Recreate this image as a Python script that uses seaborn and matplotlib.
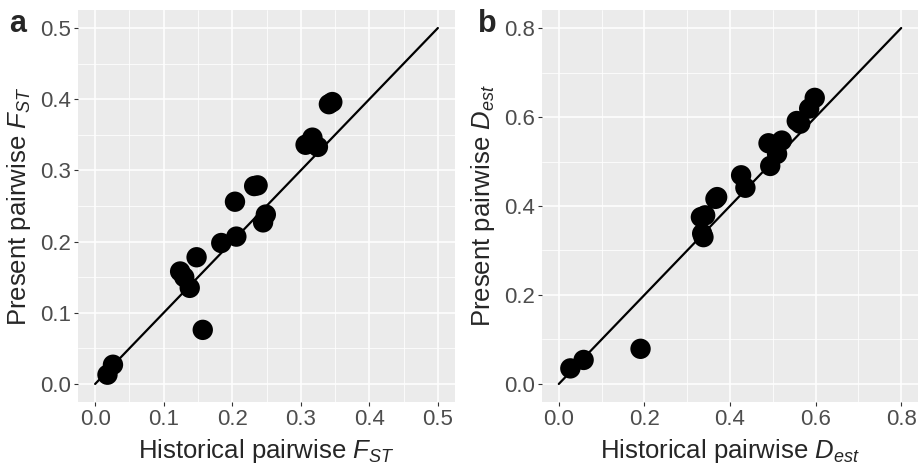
import numpy as np
import pandas as pd
import matplotlib
matplotlib.use("Agg")
import matplotlib.pyplot as plt
import seaborn as sns
from matplotlib.ticker import MultipleLocator

# values
hist_fst = [0.018, 0.026, 0.124, 0.130, 0.138, 0.148, 0.157, 0.184, 0.204, 0.206,
            0.232, 0.237, 0.249, 0.245, 0.307, 0.317, 0.325, 0.312, 0.341, 0.346]
pres_fst = [0.013, 0.027, 0.158, 0.150, 0.135, 0.178, 0.076, 0.198, 0.256, 0.207,
            0.278, 0.279, 0.238, 0.227, 0.336, 0.346, 0.333, 0.338, 0.393, 0.396]

hist_dest = [0.027, 0.058, 0.191, 0.332, 0.342, 0.338, 0.335, 0.370, 0.366, 0.426,
             0.436, 0.494, 0.490, 0.521, 0.510, 0.507, 0.556, 0.564, 0.585, 0.598]
pres_dest = [0.035, 0.054, 0.079, 0.375, 0.379, 0.330, 0.338, 0.420, 0.416, 0.469,
             0.441, 0.490, 0.541, 0.547, 0.517, 0.532, 0.591, 0.585, 0.619, 0.643]

sns.set_theme(style="darkgrid", rc={
    "axes.facecolor": "#EBEBEB",
    "grid.color": "white",
    "axes.edgecolor": "none",
})
plt.rcParams["font.family"] = ["Liberation Sans", "DejaVu Sans"]
plt.rcParams["mathtext.fontset"] = "custom"
plt.rcParams["mathtext.rm"] = "Liberation Sans"
plt.rcParams["mathtext.it"] = "Liberation Sans:italic"

fig = plt.figure(figsize=(9.22, 4.65), dpi=100)
ax1 = fig.add_axes([0.0846, 0.136, 0.4089, 0.842])
ax2 = fig.add_axes([0.5875, 0.136, 0.4085, 0.842])

df1 = pd.DataFrame({"x": hist_fst, "y": pres_fst})
df2 = pd.DataFrame({"x": hist_dest, "y": pres_dest})

panels = [
    (ax1, df1, 0.5, 0.1, r"Historical pairwise $F_{ST}$", r"Present pairwise $F_{ST}$"),
    (ax2, df2, 0.8, 0.2, r"Historical pairwise $D_{est}$", r"Present pairwise $D_{est}$"),
]

for ax, df, top, step, xl, yl in panels:
    ax.plot([0, top], [0, top], color="black", lw=1.6, zorder=2)
    sns.scatterplot(data=df, x="x", y="y", ax=ax, color="black", s=215,
                    edgecolor="none", zorder=3)
    pad = top * 0.05
    ax.set_xlim(-pad, top + pad)
    ax.set_ylim(-pad, top + pad)
    ax.xaxis.set_major_locator(MultipleLocator(step))
    ax.yaxis.set_major_locator(MultipleLocator(step))
    ax.xaxis.set_minor_locator(MultipleLocator(step / 2))
    ax.yaxis.set_minor_locator(MultipleLocator(step / 2))
    ax.grid(which="major", color="white", lw=1.1)
    ax.grid(which="minor", color="white", lw=0.55)
    ax.xaxis.set_major_formatter(matplotlib.ticker.FormatStrFormatter("%.1f"))
    ax.yaxis.set_major_formatter(matplotlib.ticker.FormatStrFormatter("%.1f"))
    ax.tick_params(which="major", length=3, width=0.8, color="#333333",
                   labelsize=16, labelcolor="#4D4D4D", pad=2,
                   bottom=True, left=True)
    ax.tick_params(which="minor", length=0)
    ax.set_xlabel(xl, fontsize=18.5, labelpad=5)
    ax.set_ylabel(yl, fontsize=18.5, labelpad=5)
    for s in ax.spines.values():
        s.set_visible(False)

fig.text(0.010, 0.932, "a", fontsize=22, fontweight="bold")
fig.text(0.518, 0.932, "b", fontsize=22, fontweight="bold")

fig.savefig("out.png", dpi=100)
